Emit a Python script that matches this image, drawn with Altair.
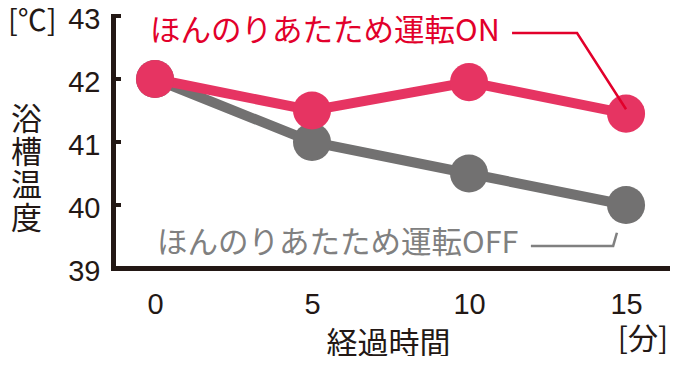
import altair as alt
import pandas as pd

# ---- data ----
minutes = [0, 5, 10, 15]
on_temps = [42.0, 41.5, 41.95, 41.45]
off_temps = [42.0, 41.0, 40.5, 40.0]
y_ticks = [39, 40, 41, 42, 43]
x_ticks = [0, 5, 10, 15]

on_label = "ほんのりあたため運転ON"
off_label = "ほんのりあたため運転OFF"
y_title = ["浴", "槽", "温", "度"]
x_title = "経過時間"
y_unit = "[℃]"
x_unit = "[分]"

# leader-line paths for the two labels (in data units)
on_leader_x = [11.37, 13.44, 15.0]
on_leader_y = [42.73, 42.73, 41.52]
off_leader_x = [11.97, 14.59, 14.71]
off_leader_y = [39.35, 39.35, 39.56]

PINK = "#E63462"
GRAY = "#727171"
RED = "#E2002B"
LGRAY = "#808080"
INK = "#231815"
JP = "Noto Sans CJK JP"
NUM = "Liberation Sans"

on_df = pd.DataFrame({"minute": minutes, "temp": on_temps})
off_df = pd.DataFrame({"minute": minutes, "temp": off_temps})
tick_df = pd.DataFrame({"temp": y_ticks[1:]})
on_lead_df = pd.DataFrame({"minute": on_leader_x, "temp": on_leader_y, "o": [0, 1, 2]})
off_lead_df = pd.DataFrame({"minute": off_leader_x, "temp": off_leader_y, "o": [0, 1, 2]})

xscale = alt.Scale(domain=[-1.3376, 16.40], nice=False, zero=False)
yscale = alt.Scale(domain=[39, 43], nice=False, zero=False)

X = alt.X(
    "minute:Q",
    scale=xscale,
    axis=alt.Axis(
        values=x_ticks, format="d", ticks=False, tickSize=0, grid=False,
        labelFont=NUM, labelFontSize=29, labelColor=INK, labelPadding=36,
        labelBaseline="middle", labelFlush=False, labelOverlap=False,
        domainColor=INK, domainWidth=5, domainCap="square",
        title=x_title, titleX=275, titleY=76, titleAlign="center",
        titleBaseline="middle", titleFont=JP, titleFontSize=31,
        titleFontWeight="normal", titleColor=INK,
    ),
)
Y = alt.Y(
    "temp:Q",
    scale=yscale,
    axis=alt.Axis(
        values=y_ticks, format="d", ticks=False, tickSize=0, grid=False,
        labelFont=NUM, labelFontSize=29, labelColor=INK, labelPadding=13,
        labelOffset=3, labelFlush=False, labelOverlap=False,
        domainColor=INK, domainWidth=5, domainCap="square",
        title=y_title, titleAngle=0, titleX=-87, titleY=104,
        titleAlign="center", titleBaseline="middle", titleFont=JP,
        titleFontSize=31, titleFontWeight="normal", titleColor=INK,
        titleLineHeight=33,
    ),
)

ticks = alt.Chart(tick_df).mark_rule(color=INK, strokeWidth=4).encode(
    y=Y, x=alt.value(0), x2=alt.value(8)
)
off_line = alt.Chart(off_df).mark_line(color=GRAY, strokeWidth=10).encode(x=X, y=Y)
off_pts = alt.Chart(off_df).mark_circle(color=GRAY, size=1450, opacity=1).encode(x=X, y=Y)
on_line = alt.Chart(on_df).mark_line(color=PINK, strokeWidth=10).encode(x=X, y=Y)
on_pts = alt.Chart(on_df).mark_circle(color=PINK, size=1450, opacity=1).encode(x=X, y=Y)

on_lead = alt.Chart(on_lead_df).mark_line(color=RED, strokeWidth=2.5).encode(
    x=X, y=Y, order="o:Q"
)
off_lead = alt.Chart(off_lead_df).mark_line(color=LGRAY, strokeWidth=2.5).encode(
    x=X, y=Y, order="o:Q"
)

on_text = alt.Chart(pd.DataFrame({"t": [on_label]})).mark_text(
    align="left", baseline="middle", font=JP, fontSize=30.5, color=RED
).encode(x=alt.value(37), y=alt.value(16), text="t:N")
off_text = alt.Chart(pd.DataFrame({"t": [off_label]})).mark_text(
    align="left", baseline="middle", font=JP, fontSize=30.5, color=LGRAY
).encode(x=alt.value(44), y=alt.value(228), text="t:N")

yunit_text = alt.Chart(pd.DataFrame({"t": [y_unit]})).mark_text(
    align="left", baseline="middle", font=JP, fontSize=29, color=INK
).encode(x=alt.value(-105), y=alt.value(6), text="t:N")
xunit_text = alt.Chart(pd.DataFrame({"t": [x_unit]})).mark_text(
    align="center", baseline="middle", font=JP, fontSize=30, color=INK
).encode(x=alt.value(530), y=alt.value(324), text="t:N")

chart = alt.layer(
    ticks, off_line, off_pts, on_line, on_pts, on_lead, off_lead,
    on_text, off_text, yunit_text, xunit_text,
).properties(
    width=557,
    height=252,
    autosize=alt.AutoSizeParams(type="none"),
    padding={"left": 105, "top": 8, "right": 0, "bottom": 88},
    background="white",
).configure_view(stroke=None)

chart.save("out.html", embed_options={"renderer": "svg", "actions": False})
